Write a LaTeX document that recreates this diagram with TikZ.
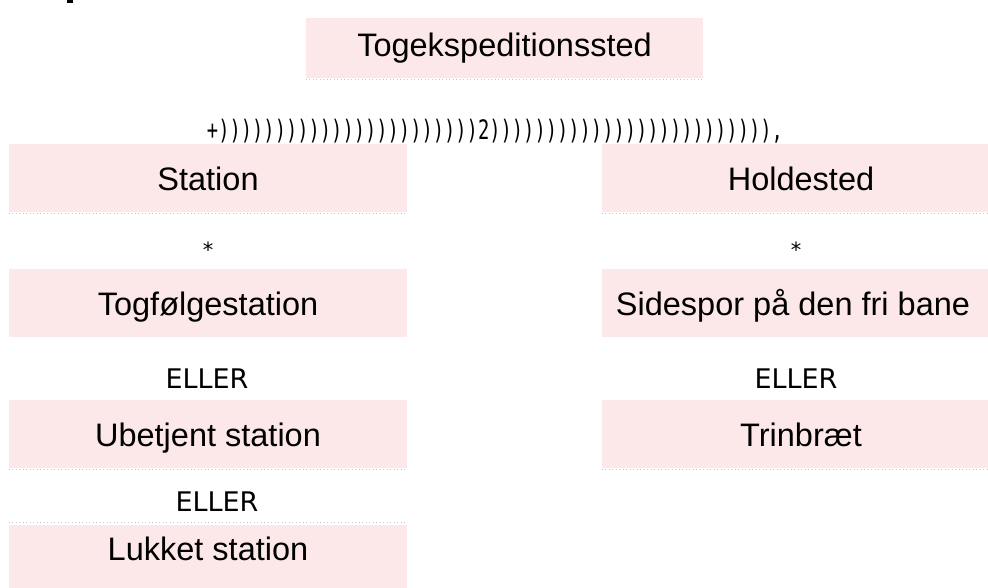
\documentclass[tikz,border=0pt]{standalone}
\usepackage{fontspec}
\setmainfont{Liberation Sans}
\newfontfamily\ellerfont{DejaVu Sans}
\newfontfamily\chainfont[FakeStretch=0.7]{DejaVu Sans Mono}
\definecolor{boxpink}{RGB}{253,232,233}
\definecolor{dotgray}{RGB}{195,195,195}
\definecolor{dotpink}{RGB}{215,192,186}
\begin{document}
\begin{tikzpicture}[x=1pt,y=-1pt,
  box/.style={fill=boxpink, minimum width=398pt, minimum height=68pt, inner sep=0pt,
    font=\fontsize{32.5}{36}\selectfont, text height=26pt, text depth=0pt},
  dotline/.style={draw=dotgray, line width=1pt, dash pattern=on 1pt off 2.5pt},
  eller/.style={anchor=base, inner sep=0pt, font=\ellerfont\fontsize{27}{30}\selectfont},
  starlbl/.style={anchor=base, inner sep=0pt, font=\ellerfont\fontsize{21}{24}\selectfont},
  chain/.style={anchor=base, inner sep=0pt, font=\chainfont\fontsize{26.8}{30}\selectfont}]
\clip (0,0) rectangle (988,588);
\fill[white] (0,0) rectangle (988,588);
% small mark at top left
\fill[black] (67,0) rectangle (73,3);
% boxes
\node[box, minimum width=397pt, minimum height=60pt] (top) at (504.5,48) {\raisebox{4pt}{Togekspeditionssted}};
\node[box] (station) at (208,178) {Station};
\node[box] (holde) at (801,178) {Holdested};
\node[box] (togf) at (208,302.5) {Togfølgestation};
\node[box] (sidespor) at (801,302.5) {\hspace*{-8pt}Sidespor på den fri bane\hspace*{8pt}};
\node[box] (ubetj) at (208,433.5) {Ubetjent station};
\node[box] (trinb) at (801,433.5) {Trinbræt};
\node[box, minimum height=75pt] (lukket) at (208,562.5) {\raisebox{15pt}{Lukket station}};
% dotted rules
\draw[dotline, draw=dotpink] ([yshift=-1.5pt]top.south west) -- ([yshift=-1.5pt]top.south east);
\foreach \b in {station,holde,ubetj,trinb}
  \draw[dotline] ([yshift=-1.5pt]\b.south west) -- ([yshift=-1.5pt]\b.south east);
\draw[dotline] ([yshift=2pt]lukket.north west) -- ([yshift=2pt]lukket.north east);
% tree line text
\node[chain] (tree) at (495,140) {+)))))))))))))))))))))))2))))))))))))))))))))))))),};
% labels
\node[starlbl] (star1) at (208,258) {*};
\node[starlbl] (star2) at (796,258) {*};
\node[eller] (eller1) at (207,388) {ELLER};
\node[eller] (eller2) at (796,388) {ELLER};
\node[eller] (eller3) at (217,511.5) {ELLER};
\end{tikzpicture}
\end{document}
